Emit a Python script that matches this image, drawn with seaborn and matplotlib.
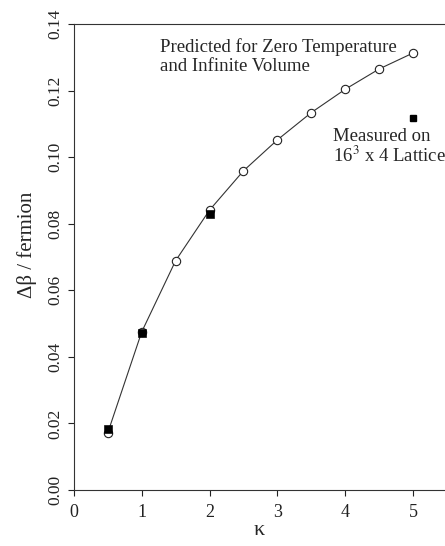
import matplotlib
matplotlib.use("Agg")
import matplotlib.pyplot as plt
import seaborn as sns
import pandas as pd

kappa_pred = [0.5, 1.0, 1.5, 2.0, 2.5, 3.0, 3.5, 4.0, 4.5, 5.0]
dbeta_pred = [0.0172, 0.0475, 0.0689, 0.0841, 0.0959, 0.1052, 0.1134, 0.1204, 0.1265, 0.1313]
kappa_meas = [0.5, 1.0, 2.0]
dbeta_meas = [0.0183, 0.0472, 0.0830]
key_kappa = [5.0]
key_dbeta = [0.1117]
xticks = [0, 1, 2, 3, 4, 5]
yticks = [0.00, 0.02, 0.04, 0.06, 0.08, 0.10, 0.12, 0.14]

sns.set_theme(style="ticks")
plt.rcParams['font.family'] = ['Liberation Serif', 'DejaVu Serif']
plt.rcParams['mathtext.fontset'] = 'stix'

fig = plt.figure(figsize=(4.45, 5.46), dpi=100)
ax = fig.add_axes([0.166, 0.1026, 0.834, 0.8534])

pred = pd.DataFrame({"k": kappa_pred, "b": dbeta_pred})
meas = pd.DataFrame({"k": kappa_meas, "b": dbeta_meas})

sns.lineplot(data=pred, x="k", y="b", ax=ax, color="#333333", lw=0.8,
             marker="o", markersize=6, markerfacecolor="white",
             markeredgecolor="#222222", markeredgewidth=0.8)
sns.scatterplot(data=meas, x="k", y="b", ax=ax, marker="s", s=30,
                color="black", edgecolor="black", zorder=5)
ax.plot(key_kappa, key_dbeta, marker="s", ms=5, color="black", ls="none")

ax.set_xlim(0, 5.47)
ax.set_ylim(0, 0.14)
ax.set_xticks(xticks)
ax.set_yticks(yticks)
ax.set_yticklabels([f"{v:.2f}" for v in yticks], rotation=90, va="center")
ax.tick_params(direction="out", length=4, width=0.8, labelsize=12.5, colors="#222222")
ax.tick_params(axis="x", pad=6, labelsize=13)
for s in ["left", "bottom", "top"]:
    ax.spines[s].set_linewidth(0.8)
    ax.spines[s].set_color("#333333")
ax.spines["right"].set_visible(False)

ax.set_xlabel("κ", fontsize=16, labelpad=0)
ax.set_ylabel("Δβ / fermion", fontsize=15, labelpad=6)
ax.yaxis.set_label_coords(-0.1, 0.526)

ax.text(1.27, 0.1357, "Predicted for Zero Temperature\nand Infinite Volume",
        fontsize=13.5, va="top", ha="left", linespacing=1.12)
ax.text(3.82, 0.1087, "Measured on\n16$^3$ x 4 Lattice",
        fontsize=13.5, va="top", ha="left", linespacing=1.05)

fig.savefig("out.png", dpi=100)
